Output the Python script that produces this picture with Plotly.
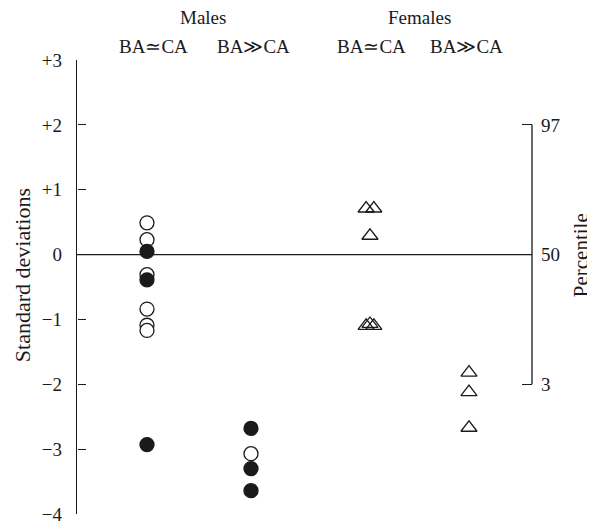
import plotly.graph_objects as go

# ---- data ----
sexes = ["Males", "Females"]
groups = ["BA≃CA", "BA≫CA", "BA≃CA", "BA≫CA"]
male_eq_open = [0.49, 0.23, -0.31, -0.84, -1.09, -1.17]
male_eq_filled = [0.05, -0.39, -2.93]
male_gg_open = [-3.07]
male_gg_filled = [-2.68, -3.30, -3.64]
female_eq = [0.71, 0.71, 0.29, -1.10, -1.07, -1.10]
female_gg = [-1.82, -2.12, -2.67]
sd_ticks = [3, 2, 1, 0, -1, -2, -3, -4]
sd_labels = ["+3", "+2", "+1", "0", "−1", "−2", "−3", "−4"]
pct_ticks = [2, 0, -2]
pct_labels = ["97", "50", "3"]

# ---- layout constants ----
GX = [1.0, 2.0, 3.144, 4.096]          # group positions on x axis
FEQ_OFF = [-0.037, 0.037, 0.0, -0.037, 0.0, 0.037]  # overlap jitter
HDR_OFF = [0.06, 0.02, 0.01, -0.02]
FONT = "Liberation Serif"
INK = "#1a1a1a"

fig = go.Figure()

def circles(xpos, ys, filled):
    fig.add_trace(go.Scatter(
        x=[xpos] * len(ys), y=ys, mode="markers", showlegend=False,
        marker=dict(symbol="circle", size=14,
                    color=INK if filled else "white",
                    line=dict(color=INK, width=1.3)),
    ))

circles(GX[0], male_eq_open, False)
circles(GX[0], male_eq_filled, True)
circles(GX[1], male_gg_open, False)
circles(GX[1], male_gg_filled, True)

fig.add_trace(go.Scatter(
    x=[GX[2] + o for o in FEQ_OFF], y=female_eq, mode="markers", showlegend=False,
    marker=dict(symbol="triangle-up-open", size=14, color=INK, line=dict(color=INK, width=1.3)),
))
fig.add_trace(go.Scatter(
    x=[GX[3]] * len(female_gg), y=female_gg, mode="markers", showlegend=False,
    marker=dict(symbol="triangle-up-open", size=14, color=INK, line=dict(color=INK, width=1.3)),
))
# invisible traces to activate the extra axes
for ya in ("y2", "y3"):
    fig.add_trace(go.Scatter(x=[GX[0]], y=[0], yaxis=ya, mode="markers",
                             marker=dict(opacity=0), showlegend=False, hoverinfo="skip"))

# page body has an 8px margin, so the figure is 8px smaller and margins shifted
fig.update_layout(
    width=587, height=514,
    margin=dict(l=69, r=63, t=52, b=8, autoexpand=False),
    paper_bgcolor="white", plot_bgcolor="rgba(0,0,0,0)",
    font=dict(family=FONT, size=19, color=INK),
    xaxis=dict(range=[0.327, 4.702], showline=False, showticklabels=False,
               showgrid=False, zeroline=False, ticks="", automargin=False),
    yaxis=dict(range=[-4, 3], tickvals=sd_ticks, ticktext=sd_labels,
               ticks="", showline=True, linecolor=INK, linewidth=1.3, automargin=False,
               showgrid=False, zeroline=False, ticklabelstandoff=10,
               ticklabeloverflow="allow",
               tickfont=dict(family=FONT, size=19, color=INK)),
    yaxis3=dict(range=[-4, 3], overlaying="y", side="left", anchor="free", position=0,
                tickvals=sd_ticks, showticklabels=False, automargin=False,
                ticks="inside", ticklen=8, tickwidth=1.4, tickcolor=INK,
                showline=False, showgrid=False, zeroline=False),
    yaxis2=dict(range=[-4, 3], overlaying="y", side="right",
                tickvals=pct_ticks, ticktext=pct_labels, automargin=False,
                ticks="inside", ticklen=10, tickwidth=1.4, tickcolor=INK,
                showline=False, showgrid=False, zeroline=False, ticklabelstandoff=8,
                tickfont=dict(family=FONT, size=19, color=INK)),
)

# zero reference line and partial right axis
fig.add_shape(type="line", xref="paper", yref="y", x0=0, x1=1, y0=0, y1=0,
              line=dict(color=INK, width=1.3))
fig.add_shape(type="line", xref="paper", yref="y", x0=1, x1=1,
              y0=pct_ticks[-1], y1=pct_ticks[0], line=dict(color=INK, width=1.3))

# headers
hdr = dict(showarrow=False, xanchor="center", yanchor="middle", font=dict(size=19))
fig.add_annotation(x=(GX[0] + GX[1]) / 2 + 0.04, y=1.0947, xref="x", yref="paper",
                   text=sexes[0], **hdr)
fig.add_annotation(x=(GX[2] + GX[3]) / 2, y=1.0947, xref="x", yref="paper",
                   text=sexes[1], **hdr)
for g, lab, off in zip(GX, groups, HDR_OFF):
    fig.add_annotation(x=g + off, y=1.0308, xref="x", yref="paper", text=lab, **hdr)

# axis titles
ttl = dict(showarrow=False, xanchor="center", yanchor="middle", textangle=-90)
fig.add_annotation(x=-0.121, y=0.526, xref="paper", yref="paper",
                   text="Standard deviations", font=dict(size=22), **ttl)
fig.add_annotation(x=1.1077, y=0.57, xref="paper", yref="paper",
                   text="Percentile", font=dict(size=21), **ttl)

fig.write_html("out.html")
